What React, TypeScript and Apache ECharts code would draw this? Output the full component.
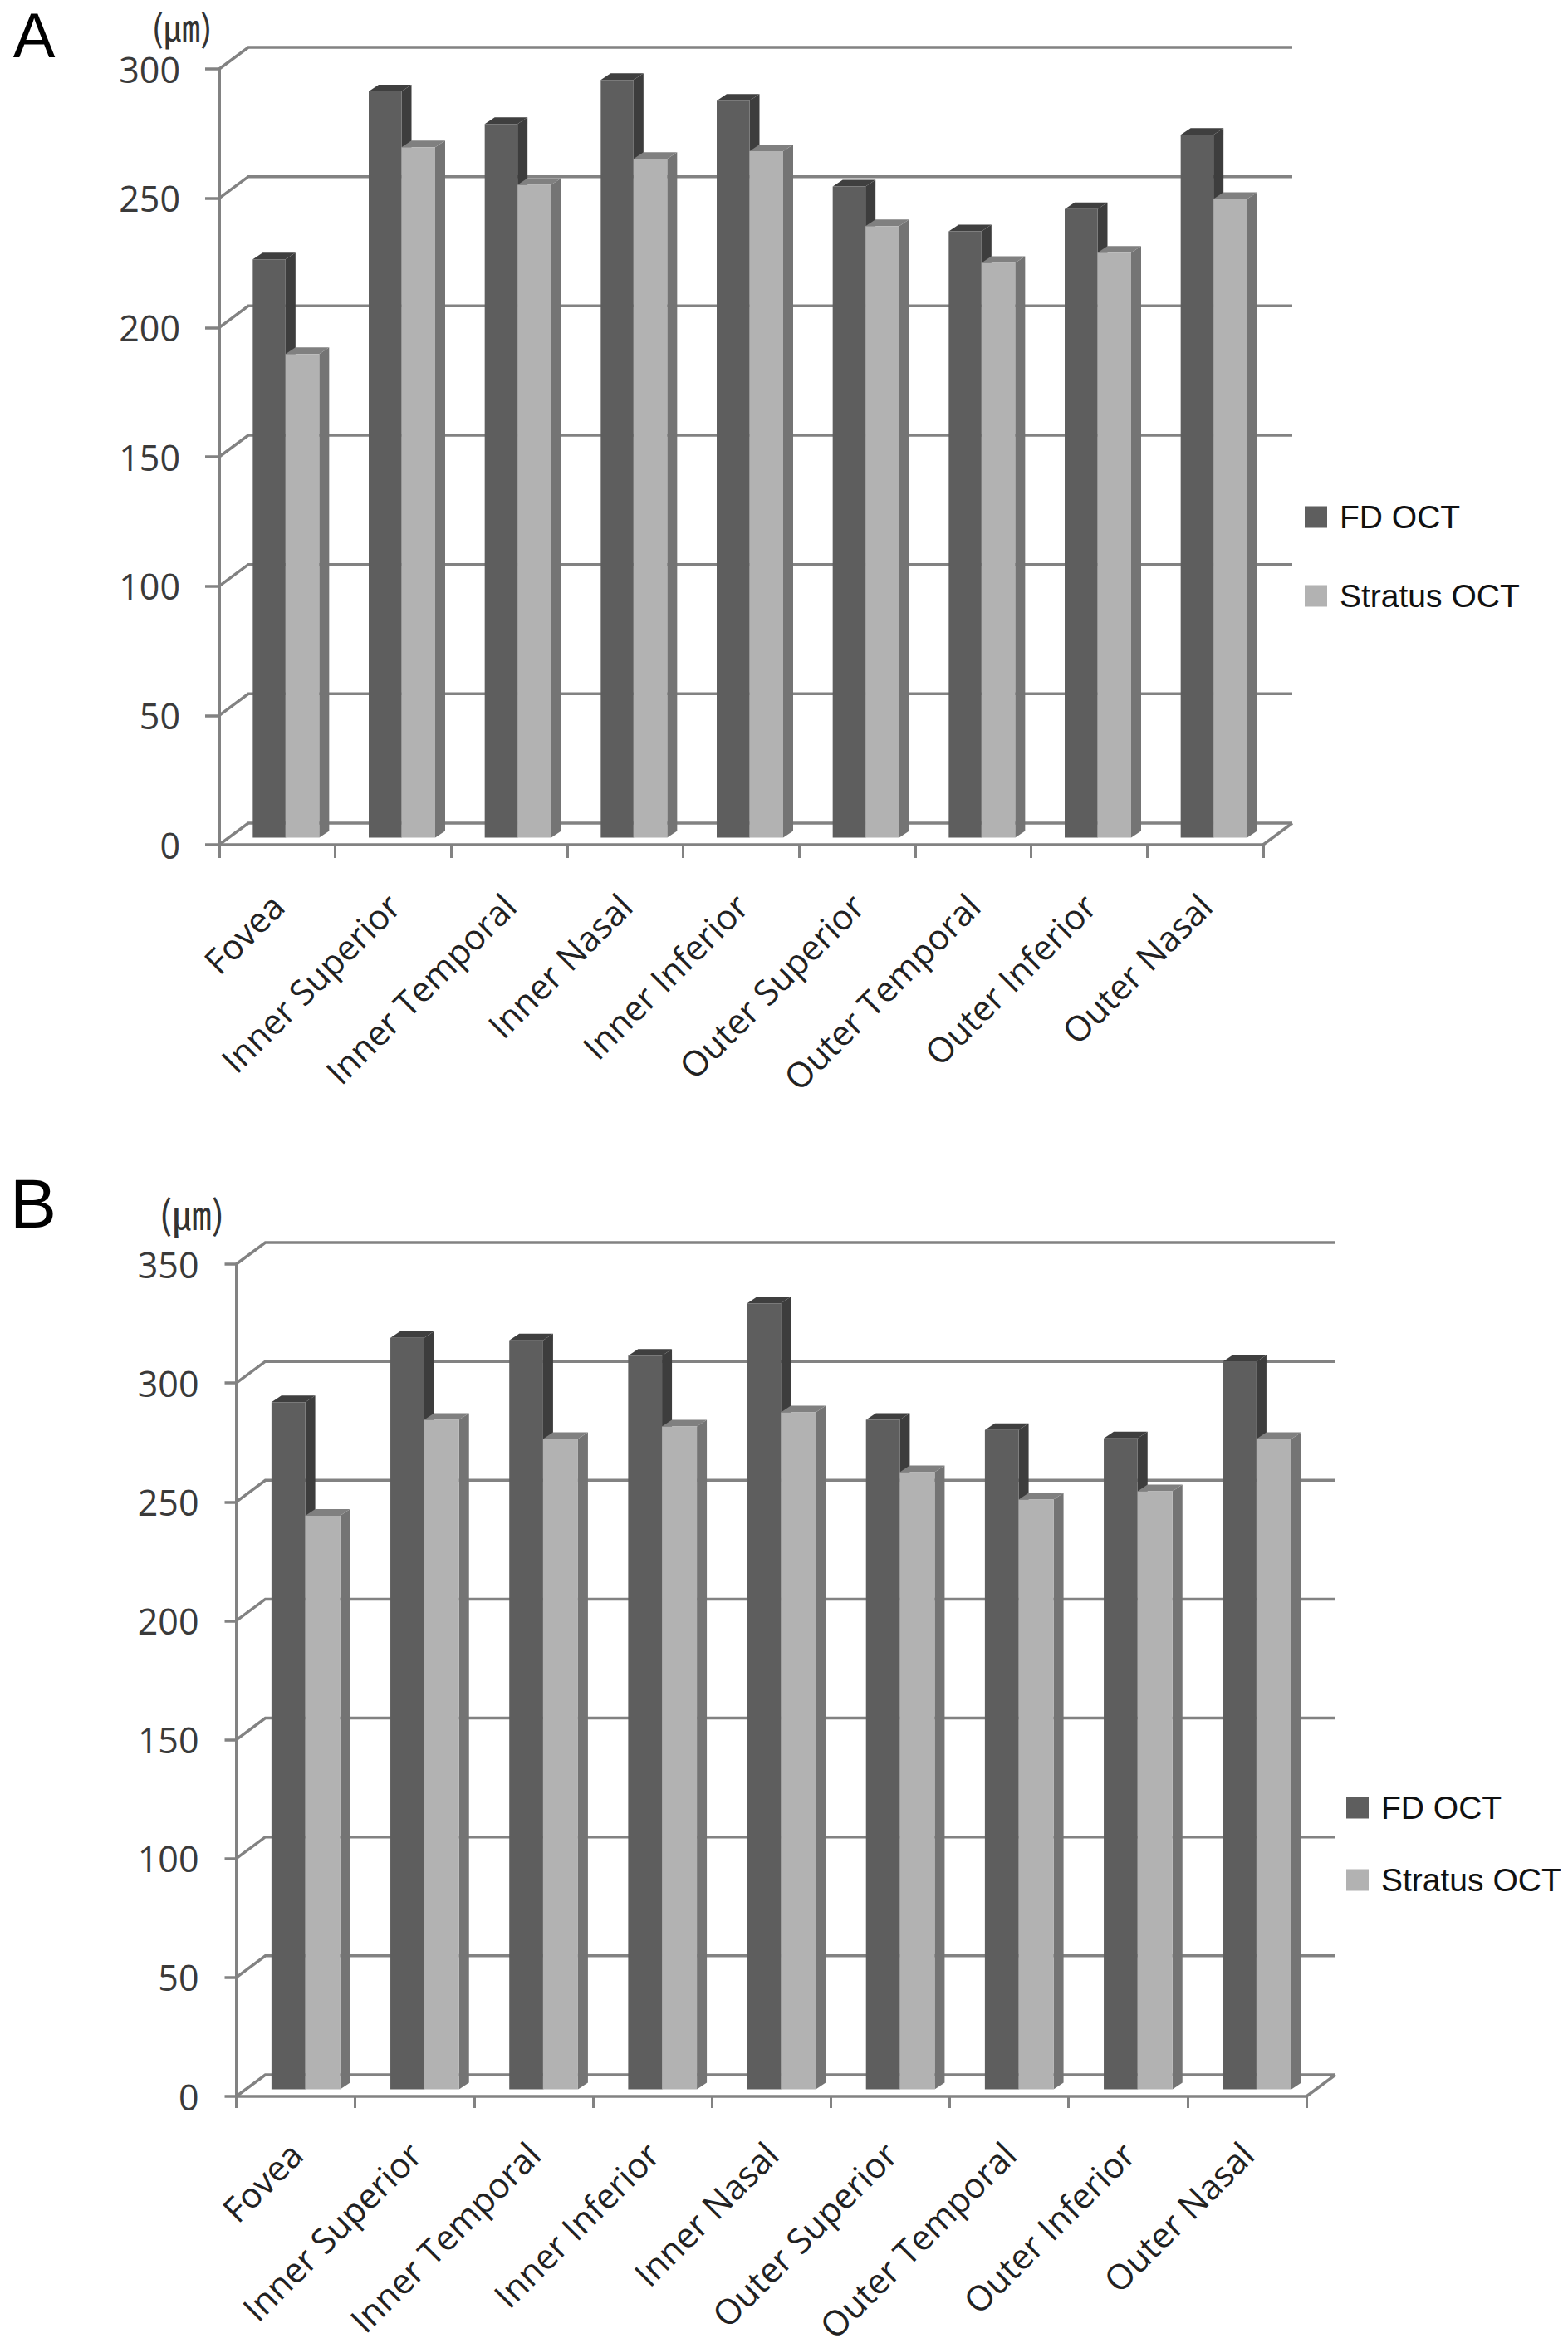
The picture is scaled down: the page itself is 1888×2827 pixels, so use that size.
import React, { useEffect, useRef } from "react";
import * as echarts from "echarts";

const categoriesA = ["Fovea", "Inner Superior", "Inner Temporal", "Inner Nasal", "Inner Inferior", "Outer Superior", "Outer Temporal", "Outer Inferior", "Outer Nasal"];
const categoriesB = ["Fovea", "Inner Superior", "Inner Temporal", "Inner Inferior", "Inner Nasal", "Outer Superior", "Outer Temporal", "Outer Inferior", "Outer Nasal"];
const fdA = [223.6, 288.6, 276, 293, 285, 251.8, 234.5, 243.1, 271.8];
const stratusA = [187, 267, 252.5, 262.5, 265.5, 236.5, 222.3, 226.2, 247];
const fdB = [289, 316, 315, 308.5, 330.5, 281.5, 277.3, 273.8, 306];
const stratusB = [241.2, 281.5, 273.5, 278.7, 284.7, 259.5, 248, 251.5, 273.5];
const ticksA = [0, 50, 100, 150, 200, 250, 300];
const ticksB = [0, 50, 100, 150, 200, 250, 300, 350];
const seriesNames = ["FD OCT", "Stratus OCT"];

const AXIS = "#828282";
const LABEL_FONT = "'Open Sans', sans-serif";
const WALL_DX = 35;
const WALL_DY = -26;
const DARK = { front: "#5e5e5e", side: "#3d3d3d", top: "#3f3f3f" };
const LIGHT = { front: "#b2b2b2", side: "#747474", top: "#808080" };

function wallSeries(gridIndex: number, ticks: number[], count: number) {
  return {
    type: "custom",
    xAxisIndex: gridIndex,
    yAxisIndex: gridIndex,
    silent: true,
    z: 1,
    data: ticks.map((t) => [0, t]),
    encode: { x: 0, y: 1 },
    renderItem: (_p: any, api: any) => {
      const v = api.value(1);
      const band = api.size([1, 0])[0];
      const [x0, y] = api.coord([0, v]);
      const left = x0 - band / 2;
      const right = left + band * count;
      const children: any[] = [
        {
          type: "polyline",
          shape: { points: [[left, y], [left + WALL_DX, y + WALL_DY], [right + WALL_DX, y + WALL_DY]] },
          style: { stroke: AXIS, lineWidth: 3.5, fill: "none" },
        },
      ];
      if (v === 0) {
        children.push({
          type: "line",
          shape: { x1: right, y1: y, x2: right + WALL_DX, y2: y + WALL_DY },
          style: { stroke: AXIS, lineWidth: 3.5 },
        });
      }
      return { type: "group", children };
    },
  };
}

function barSeries(
  gridIndex: number,
  name: string,
  values: number[],
  side: -1 | 1,
  colors: typeof DARK,
  barW: number,
  shift: number
) {
  const depthX = 12;
  const depthY = -8;
  const lift = -8.5;
  return {
    type: "custom",
    name,
    xAxisIndex: gridIndex,
    yAxisIndex: gridIndex,
    z: 2,
    itemStyle: { color: colors.front },
    data: values.map((v, i) => [i, v]),
    encode: { x: 0, y: 1 },
    renderItem: (_p: any, api: any) => {
      const [cx, yTopRaw] = api.coord([api.value(0), api.value(1)]);
      const [, yBaseRaw] = api.coord([api.value(0), 0]);
      const yTop = yTopRaw + lift;
      const yBase = yBaseRaw + lift;
      const x0 = side < 0 ? cx + shift - barW : cx + shift;
      const x1 = x0 + barW;
      return {
        type: "group",
        children: [
          {
            type: "polygon",
            shape: { points: [[x1, yTop], [x1 + depthX, yTop + depthY], [x1 + depthX, yBase + depthY], [x1, yBase]] },
            style: { fill: colors.side },
          },
          {
            type: "polygon",
            shape: { points: [[x0, yTop], [x0 + depthX, yTop + depthY], [x1 + depthX, yTop + depthY], [x1, yTop]] },
            style: { fill: colors.top },
          },
          {
            type: "rect",
            shape: { x: x0, y: yTop, width: barW, height: yBase - yTop },
            style: { fill: colors.front },
          },
        ],
      };
    },
  };
}

function xAxis(gridIndex: number, cats: string[], tickLen: number, margin: number) {
  return {
    type: "category",
    gridIndex,
    data: cats,
    boundaryGap: true,
    axisLine: { show: true, lineStyle: { color: AXIS, width: 3.5 } },
    axisTick: { show: true, inside: false, length: tickLen, lineStyle: { color: AXIS, width: 3 }, interval: 0 },
    axisLabel: {
      interval: 0,
      rotate: 45,
      margin,
      fontFamily: LABEL_FONT,
      fontSize: 42,
      color: "#222222",
    },
  };
}

function yAxis(gridIndex: number, max: number, tickLen: number, margin: number, padBottom: number) {
  return {
    type: "value",
    gridIndex,
    min: 0,
    max,
    interval: 50,
    splitLine: { show: false },
    axisLine: { show: true, lineStyle: { color: AXIS, width: 3 } },
    axisTick: { show: true, length: tickLen, lineStyle: { color: AXIS, width: 3.5 } },
    axisLabel: { margin, fontFamily: LABEL_FONT, fontSize: 43, lineHeight: 34, padding: [0, 0, padBottom, 0], color: "#3a3a3a" },
  };
}

function legend(left: number, top: number, gap: number, size: number) {
  return {
    orient: "vertical",
    left,
    top,
    padding: 0,
    itemWidth: 27,
    itemHeight: 26,
    itemGap: gap,
    icon: "rect",
    selectedMode: false,
    data: seriesNames,
    textStyle: {
      fontFamily: "'Liberation Sans', Arial, sans-serif",
      fontSize: size,
      color: "#111",
      padding: [0, 0, 0, 10],
      lineHeight: 26,
    },
  };
}

function staticText(text: string, x: number, y: number, size: number, font: string, fill: string, lineHeight: number) {
  return {
    type: "text",
    x,
    y,
    style: { text, font: `${size}px ${font}`, fill, align: "center", verticalAlign: "middle", lineHeight },
  };
}

export default function App() {
  const ref = useRef<HTMLDivElement>(null);
  useEffect(() => {
    const chart = echarts.init(ref.current!, undefined, { renderer: "svg" });
    chart.setOption({
      animation: false,
      backgroundColor: "#ffffff",
      grid: [
        { left: 264, top: 83, width: 1257, height: 934 },
        { left: 284.5, top: 1522, width: 1288.5, height: 1002 },
      ],
      xAxis: [xAxis(0, categoriesA, 16, 66), xAxis(1, categoriesB, 14, 62)],
      yAxis: [yAxis(0, 300, 17, 47, 3), yAxis(1, 350, 14, 45, 0)],
      legend: [legend(1571, 603, 56, 39), legend(1621, 2157, 48, 39)],
      series: [
        wallSeries(0, ticksA, categoriesA.length),
        barSeries(0, seriesNames[0], fdA, -1, DARK, 39.5, 10),
        barSeries(0, seriesNames[1], stratusA, 1, LIGHT, 40.5, 10),
        wallSeries(1, ticksB, categoriesB.length),
        barSeries(1, seriesNames[0], fdB, -1, DARK, 40.7, 11.5),
        barSeries(1, seriesNames[1], stratusB, 1, LIGHT, 42, 11.5),
      ],
      graphic: [
        staticText("A", 41, 42, 76, "'Liberation Sans', Arial, sans-serif", "#000", 76),
        staticText("B", 40, 1449, 84, "'Liberation Sans', Arial, sans-serif", "#000", 60),
        staticText("(㎛)", 219, 31, 44, "'Noto Sans CJK KR', sans-serif", "#333", 44),
        staticText("(㎛)", 231, 1459, 47, "'Noto Sans CJK KR', sans-serif", "#333", 44),
      ],
    });
    return () => chart.dispose();
  }, []);
  return <div ref={ref} style={{ position: "absolute", left: 0, top: 0, width: 1888, height: 2827 }} />;
}
